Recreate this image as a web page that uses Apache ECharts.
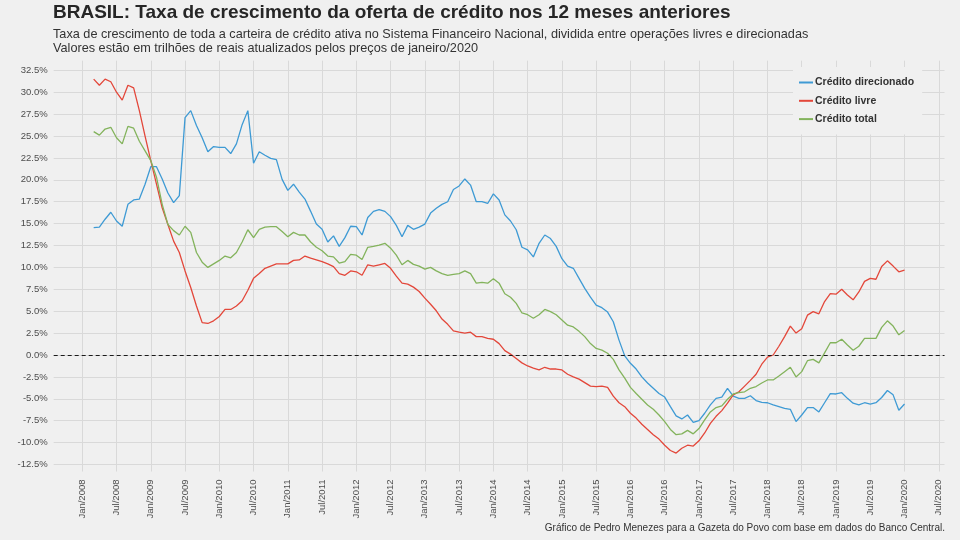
<!DOCTYPE html>
<html>
<head>
<meta charset="utf-8">
<title>Crédito Brasil</title>
<script src="https://cdn.jsdelivr.net/npm/echarts@6/dist/echarts.min.js"></script>
<style>
  html,body{margin:0;padding:0;background:#f0f0f0;}
  #grafico{width:960px;height:540px;}
</style>
</head>
<body>
<div id="grafico"></div>
<script>
// meses do eixo x: ago/2007 ate ago/2020 (folga igual ao ggplot)
var nomesMes = ['Jan','Fev','Mar','Abr','Mai','Jun','Jul','Ago','Set','Out','Nov','Dez'];
var inicioEixo = [2007, 7];   // ago/2007
var fimEixo = [2020, 7];      // ago/2020
var inicioDados = 7;          // posicao de mar/2008 nos meses

// ticks do eixo y
var yTicks = [-12.5,-10,-7.5,-5,-2.5,0,2.5,5,7.5,10,12.5,15,17.5,20,22.5,25,27.5,30,32.5];

// taxa de crescimento em 12 meses (%), mar/2008 - jan/2020
var direcionado = [
  14.55,14.6,15.5,16.3,15.3,14.7,17.2,17.7,17.8,19.5,
  21.5,21.5,20.1,18.5,17.4,18.2,27.1,27.9,26.2,24.8,
  23.2,23.8,23.7,23.7,23.0,24.1,26.3,27.9,21.9,23.2,
  22.8,22.45,22.3,20.05,18.8,19.5,18.6,17.8,16.4,14.95,
  14.35,12.9,13.6,12.4,13.4,14.7,14.65,13.7,15.7,16.4,
  16.6,16.4,15.8,14.8,13.5,14.8,14.35,14.6,14.95,16.2,
  16.75,17.2,17.5,18.9,19.3,20.1,19.4,17.5,17.5,17.3,
  18.4,17.7,16.0,15.3,14.3,12.3,12.0,11.2,12.75,13.7,
  13.3,12.4,11.0,10.15,9.9,8.75,7.6,6.6,5.7,5.4,
  4.9,3.8,1.7,-0.1,-0.95,-1.6,-2.5,-3.2,-3.8,-4.4,
  -4.8,-5.9,-6.95,-7.3,-6.85,-7.7,-7.5,-6.65,-5.7,-4.95,
  -4.8,-3.8,-4.7,-4.95,-4.95,-4.65,-5.2,-5.4,-5.45,-5.7,
  -5.9,-6.1,-6.2,-7.6,-6.85,-6.0,-6.0,-6.5,-5.45,-4.4,
  -4.45,-4.3,-4.95,-5.5,-5.7,-5.45,-5.6,-5.45,-4.85,-4.05,
  -4.55,-6.3,-5.6
];
var livre = [
  31.5,30.8,31.5,31.2,30.0,29.1,30.8,30.5,27.9,25.0,
  22.2,19.5,16.8,14.9,13.0,11.7,9.6,7.7,5.6,3.7,
  3.6,3.9,4.4,5.2,5.2,5.6,6.2,7.4,8.75,9.3,
  9.9,10.15,10.4,10.4,10.4,10.8,10.85,11.3,11.05,10.85,
  10.65,10.4,10.1,9.3,9.1,9.6,9.5,9.1,10.3,10.15,
  10.3,10.45,9.9,9.0,8.2,8.1,7.75,7.25,6.5,5.8,
  5.05,4.1,3.5,2.75,2.6,2.5,2.6,2.1,2.1,1.9,
  1.8,1.3,0.5,0.1,-0.4,-0.9,-1.25,-1.5,-1.7,-1.4,
  -1.6,-1.6,-1.7,-2.2,-2.5,-2.75,-3.15,-3.55,-3.6,-3.55,
  -3.7,-4.7,-5.45,-5.9,-6.65,-7.2,-7.9,-8.5,-9.1,-9.6,
  -10.3,-10.9,-11.2,-10.65,-10.3,-10.4,-9.8,-8.9,-7.8,-7.0,
  -6.35,-5.5,-4.55,-4.2,-3.55,-2.9,-2.2,-1.05,-0.25,0.0,
  1.0,2.1,3.3,2.5,3.0,4.55,4.95,4.7,6.1,7.0,
  6.95,7.5,6.85,6.3,7.2,8.4,8.75,8.65,10.1,10.75,
  10.15,9.5,9.7
];
var total = [
  25.5,25.1,25.8,26.0,24.8,24.1,26.1,25.9,24.4,23.3,
  22.2,20.3,17.2,14.9,14.2,13.7,14.7,14.0,11.7,10.6,
  10.0,10.4,10.8,11.3,11.1,11.7,12.9,14.3,13.4,14.35,
  14.6,14.65,14.65,14.1,13.5,14.0,13.7,13.7,12.9,12.3,
  11.9,11.3,11.2,10.5,10.65,11.5,11.4,10.9,12.3,12.4,
  12.55,12.75,12.2,11.4,10.3,10.8,10.35,10.15,9.8,10.0,
  9.6,9.3,9.1,9.2,9.3,9.6,9.3,8.2,8.3,8.2,
  8.7,8.2,7.0,6.6,5.9,4.8,4.6,4.2,4.6,5.2,
  4.95,4.6,4.0,3.4,3.2,2.7,2.1,1.3,0.75,0.55,
  0.2,-0.5,-1.7,-2.65,-3.7,-4.4,-5.05,-5.7,-6.2,-6.85,
  -7.6,-8.5,-9.1,-9.0,-8.6,-9.0,-8.4,-7.4,-6.5,-6.0,
  -5.8,-5.05,-4.45,-4.3,-4.2,-3.8,-3.6,-3.2,-2.85,-2.85,
  -2.4,-1.9,-1.4,-2.5,-1.9,-0.65,-0.5,-0.9,0.25,1.4,
  1.4,1.8,1.15,0.55,1.0,1.9,1.9,1.9,3.15,3.9,
  3.3,2.3,2.8
];

var fonte = 'Liberation Sans, Arial, sans-serif';

//monta os rotulos dos meses
function montaMeses(){
  var lista = [];
  var a = inicioEixo[0], m = inicioEixo[1];
  while (a < fimEixo[0] || (a == fimEixo[0] && m <= fimEixo[1])) {
    lista.push(nomesMes[m] + '/' + a);
    m++;
    if (m > 11) { m = 0; a++; }
  }
  return lista;
}

//coloca null antes e depois da serie
function completa(serie, n){
  var out = [];
  for (var i = 0; i < n; i++) {
    var k = i - inicioDados;
    out.push(k >= 0 && k < serie.length ? serie[k] : null);
  }
  return out;
}

var meses = montaMeses();

//so mostra jan e jul
function janJul(idx, val){
  var m = (idx + inicioEixo[1]) % 12;
  return m == 0 || m == 6;
}

var myChart = echarts.init(document.getElementById('grafico'), null, {renderer: 'canvas'});

var option = {
  backgroundColor: '#f0f0f0',
  animation: false,
  textStyle: {fontFamily: fonte},
  title: [
    {
      text: 'BRASIL: Taxa de crescimento da oferta de crédito nos 12 meses anteriores',
      left: 53, top: 3, padding: 0,
      textStyle: {fontFamily: fonte, fontSize: 19, fontWeight: 'bold', color: '#262626'}
    },
    {
      text: 'Taxa de crescimento de toda a carteira de crédito ativa no Sistema Financeiro Nacional, dividida entre operações livres e direcionadas\nValores estão em trilhões de reais atualizados pelos preços de janeiro/2020',
      left: 53, top: 27, padding: 0,
      textStyle: {fontFamily: fonte, fontSize: 12.7, fontWeight: 'normal', color: '#333', lineHeight: 14}
    },
    {
      text: 'Gráfico de Pedro Menezes para a Gazeta do Povo com base em dados do Banco Central.',
      right: 15, top: 523, padding: 0,
      textStyle: {fontFamily: fonte, fontSize: 10, fontWeight: 'normal', color: '#333'}
    }
  ],
  legend: {
    orient: 'vertical',
    left: 793, top: 67,
    padding: [10, 8, 10, 6],
    backgroundColor: '#f0f0f0',
    itemWidth: 14, itemHeight: 2, itemGap: 7.3,
    icon: 'rect',
    textStyle: {fontFamily: fonte, fontSize: 10.5, fontWeight: 'bold', color: '#333', padding: [0, 0, 0, -3]},
    data: ['Crédito direcionado', 'Crédito livre', 'Crédito total']
  },
  grid: {left: 53.7, right: 15.5, top: 60.7, bottom: 68.5, outerBoundsMode: 'none'},
  xAxis: {
    type: 'category',
    data: meses,
    boundaryGap: false,
    axisLine: {show: false},
    axisTick: {show: true, length: 3, interval: janJul, lineStyle: {color: '#d9d9d9'}},
    axisLabel: {interval: janJul, rotate: 90, margin: 8, fontSize: 9.5, color: '#4d4d4d', fontFamily: fonte},
    splitLine: {show: true, interval: janJul, lineStyle: {color: '#d9d9d9', width: 1}}
  },
  yAxis: {
    type: 'value',
    min: -13.3, max: 33.6,
    axisLine: {show: false},
    axisTick: {show: false, customValues: yTicks},
    axisLabel: {
      customValues: yTicks, margin: 6, fontSize: 9.5, color: '#4d4d4d', fontFamily: fonte,
      formatter: function (v) { return v.toFixed(1) + '%'; }
    },
    splitLine: {show: true, lineStyle: {color: '#d9d9d9', width: 1}}
  },
  series: [
    {
      name: 'Crédito direcionado', type: 'line', data: completa(direcionado, meses.length),
      symbol: 'none', lineStyle: {width: 1.3}, itemStyle: {color: '#3e9ad4'}
    },
    {
      name: 'Crédito livre', type: 'line', data: completa(livre, meses.length),
      symbol: 'none', lineStyle: {width: 1.3}, itemStyle: {color: '#e3473a'},
      markLine: {
        silent: true, symbol: ['none', 'none'], label: {show: false},
        lineStyle: {type: [4, 3], color: '#1a1a1a', width: 1.2},
        data: [{yAxis: 0}]
      }
    },
    {
      name: 'Crédito total', type: 'line', data: completa(total, meses.length),
      symbol: 'none', lineStyle: {width: 1.3}, itemStyle: {color: '#83b35c'}
    }
  ]
};

myChart.setOption(option);
</script>
</body>
</html>
